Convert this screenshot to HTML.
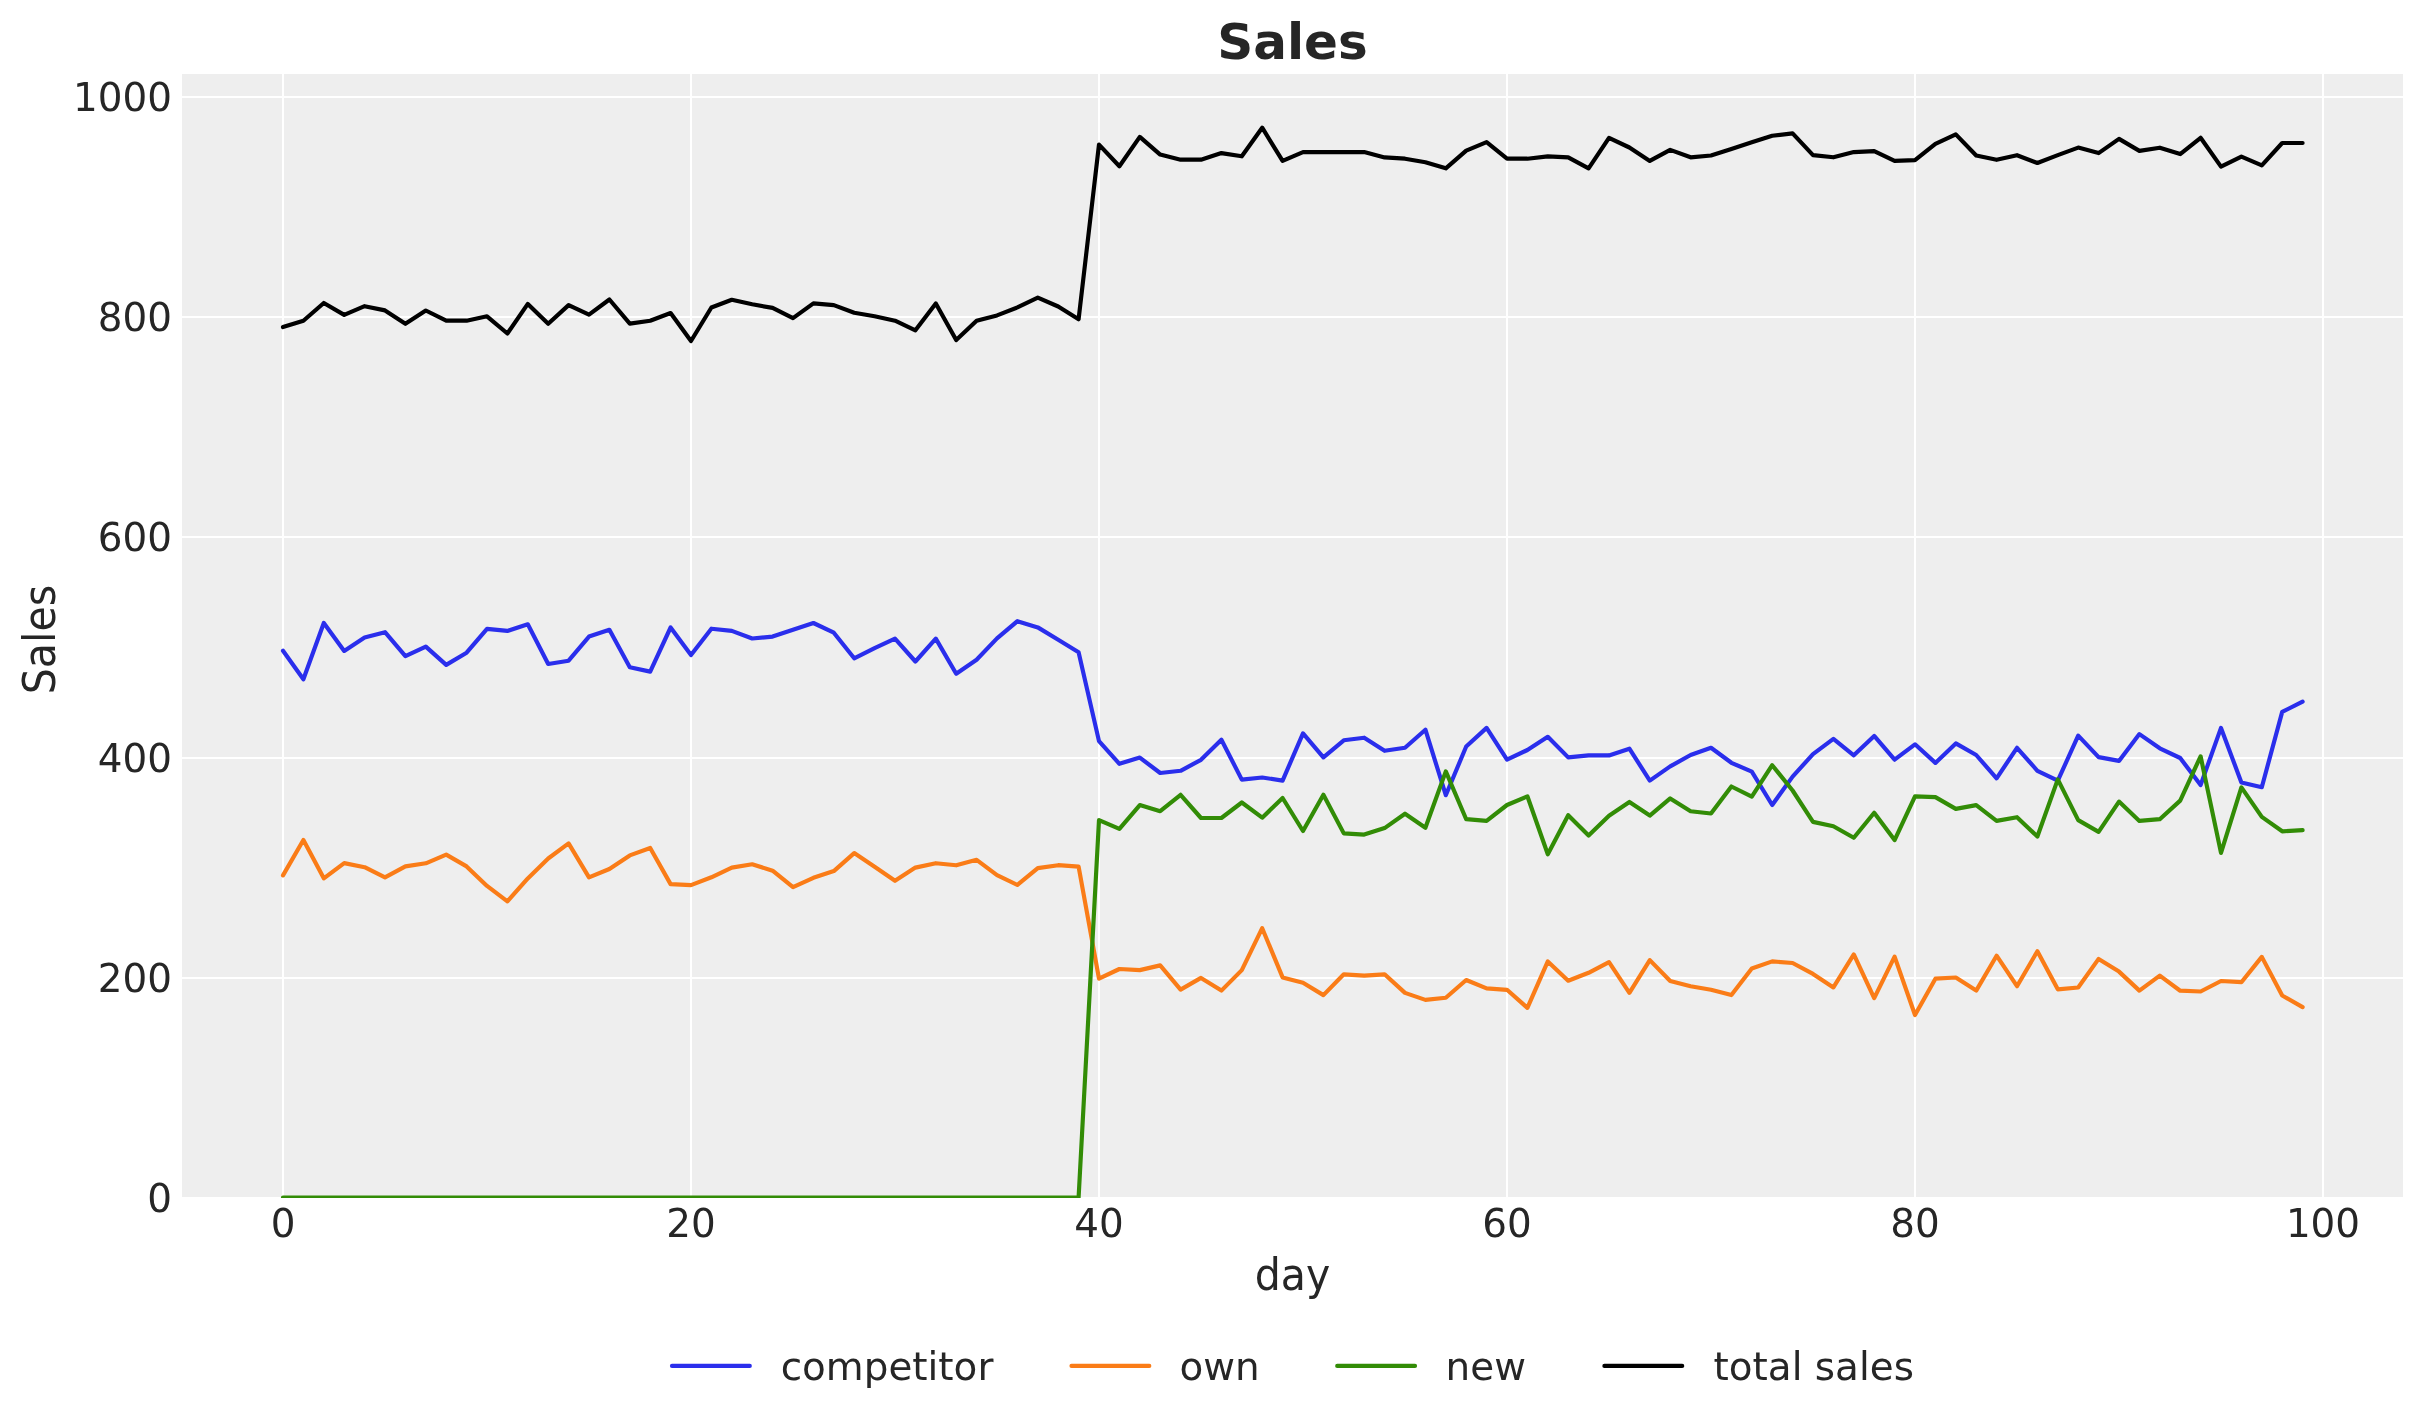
<!DOCTYPE html>
<html lang="en"><head><meta charset="utf-8"><title>Sales</title>
<style>html,body{margin:0;padding:0;background:#fff}svg{display:block;will-change:transform}text{font-family:"DejaVu Sans","Liberation Sans",sans-serif;fill:#262626}</style></head><body>
<svg width="2423" height="1423" viewBox="0 0 2423 1423">
<rect x="0" y="0" width="2423" height="1423" fill="#ffffff"/>
<rect x="182" y="74" width="2221" height="1123" fill="#eeeeee"/>
<g fill="#ffffff" shape-rendering="crispEdges">
<rect x="282" y="74" width="2" height="1123"/>
<rect x="690" y="74" width="2" height="1123"/>
<rect x="1098" y="74" width="2" height="1123"/>
<rect x="1506" y="74" width="2" height="1123"/>
<rect x="1914" y="74" width="2" height="1123"/>
<rect x="2322" y="74" width="2" height="1123"/>
<rect x="182" y="96" width="2221" height="2"/>
<rect x="182" y="316" width="2221" height="2"/>
<rect x="182" y="536" width="2221" height="2"/>
<rect x="182" y="757" width="2221" height="2"/>
<rect x="182" y="977" width="2221" height="2"/>
</g>
<clipPath id="ax"><rect x="182" y="74" width="2221" height="1124"/></clipPath>
<g clip-path="url(#ax)" fill="none" stroke-width="4.17" stroke-linecap="round" stroke-linejoin="round">
<polyline stroke="#2a2eec" points="283.0,650.8 303.4,679.3 323.8,623.0 344.2,650.9 364.6,637.5 385.0,632.2 405.4,656.2 425.8,646.6 446.2,664.9 466.6,652.7 487.0,628.9 507.4,630.9 527.8,624.3 548.2,664.0 568.6,660.7 589.0,636.6 609.4,629.8 629.8,667.3 650.2,671.6 670.6,627.5 691.0,655.1 711.4,628.7 731.8,630.9 752.2,638.5 772.6,636.6 793.0,629.7 813.4,623.0 833.8,632.7 854.2,658.3 874.6,648.1 895.0,638.6 915.4,661.5 935.8,638.6 956.2,673.8 976.6,659.7 997.0,638.4 1017.4,621.2 1037.8,627.4 1058.2,639.8 1078.6,652.2 1099.0,741.1 1119.4,763.8 1139.8,757.6 1160.2,773.0 1180.6,770.8 1201.0,759.8 1221.4,739.8 1241.8,779.6 1262.2,777.5 1282.6,780.6 1303.0,733.3 1323.4,757.4 1343.8,740.3 1364.2,737.7 1384.6,750.8 1405.0,747.7 1425.4,729.7 1445.8,795.2 1466.2,746.5 1486.6,727.9 1507.0,759.7 1527.4,750.0 1547.8,736.8 1568.2,757.4 1588.6,755.4 1609.0,755.4 1629.4,748.7 1649.8,780.6 1670.2,766.4 1690.6,755.0 1711.0,747.8 1731.4,762.8 1751.8,771.7 1772.2,805.0 1792.6,776.6 1813.0,754.1 1833.4,738.9 1853.8,755.3 1874.2,735.9 1894.6,759.7 1915.0,744.3 1935.4,762.9 1955.8,743.4 1976.2,755.0 1996.6,778.3 2017.0,747.8 2037.4,770.8 2057.8,780.7 2078.2,735.6 2098.6,757.1 2119.0,760.9 2139.4,734.1 2159.8,748.3 2180.2,758.0 2200.6,785.1 2221.0,727.9 2241.4,782.5 2261.8,787.2 2282.2,711.9 2302.6,701.6"/>
<polyline stroke="#fa7c17" points="283.0,875.4 303.4,840.0 323.8,878.3 344.2,863.1 364.6,867.2 385.0,877.4 405.4,866.4 425.8,863.3 446.2,854.6 466.6,866.4 487.0,885.9 507.4,901.4 527.8,878.4 548.2,858.5 568.6,843.4 589.0,877.4 609.4,869.0 629.8,855.4 650.2,848.0 670.6,884.1 691.0,885.1 711.4,877.3 731.8,867.6 752.2,864.3 772.6,870.7 793.0,887.2 813.4,877.8 833.8,871.1 854.2,853.1 874.6,866.8 895.0,880.8 915.4,867.6 935.8,863.2 956.2,865.3 976.6,859.8 997.0,875.2 1017.4,884.9 1037.8,868.1 1058.2,865.2 1078.6,866.7 1099.0,978.7 1119.4,969.0 1139.8,970.1 1160.2,965.4 1180.6,989.6 1201.0,977.9 1221.4,990.6 1241.8,970.1 1262.2,928.2 1282.6,977.4 1303.0,982.7 1323.4,995.1 1343.8,974.3 1364.2,975.6 1384.6,974.3 1405.0,992.9 1425.4,999.9 1445.8,997.7 1466.2,980.0 1486.6,988.4 1507.0,989.8 1527.4,1007.9 1547.8,961.4 1568.2,980.7 1588.6,972.8 1609.0,962.2 1629.4,992.8 1649.8,960.1 1670.2,981.0 1690.6,986.3 1711.0,989.8 1731.4,995.1 1751.8,968.5 1772.2,961.4 1792.6,963.0 1813.0,973.9 1833.4,987.4 1853.8,954.4 1874.2,998.1 1894.6,956.6 1915.0,1015.0 1935.4,978.7 1955.8,977.5 1976.2,990.6 1996.6,955.7 2017.0,986.2 2037.4,951.2 2057.8,989.3 2078.2,987.5 2098.6,958.9 2119.0,971.6 2139.4,990.6 2159.8,975.6 2180.2,990.7 2200.6,991.5 2221.0,981.0 2241.4,982.2 2261.8,956.9 2282.2,995.5 2302.6,1007.1"/>
<polyline stroke="#328c06" points="283.0,1197.5 303.4,1197.5 323.8,1197.5 344.2,1197.5 364.6,1197.5 385.0,1197.5 405.4,1197.5 425.8,1197.5 446.2,1197.5 466.6,1197.5 487.0,1197.5 507.4,1197.5 527.8,1197.5 548.2,1197.5 568.6,1197.5 589.0,1197.5 609.4,1197.5 629.8,1197.5 650.2,1197.5 670.6,1197.5 691.0,1197.5 711.4,1197.5 731.8,1197.5 752.2,1197.5 772.6,1197.5 793.0,1197.5 813.4,1197.5 833.8,1197.5 854.2,1197.5 874.6,1197.5 895.0,1197.5 915.4,1197.5 935.8,1197.5 956.2,1197.5 976.6,1197.5 997.0,1197.5 1017.4,1197.5 1037.8,1197.5 1058.2,1197.5 1078.6,1197.5 1099.0,820.2 1119.4,828.9 1139.8,805.1 1160.2,811.2 1180.6,794.8 1201.0,818.0 1221.4,818.0 1241.8,802.5 1262.2,817.7 1282.6,798.0 1303.0,831.0 1323.4,794.8 1343.8,833.4 1364.2,834.6 1384.6,828.1 1405.0,813.7 1425.4,827.7 1445.8,771.4 1466.2,819.2 1486.6,820.9 1507.0,805.0 1527.4,796.3 1547.8,854.3 1568.2,815.2 1588.6,835.5 1609.0,815.7 1629.4,801.9 1649.8,815.6 1670.2,798.4 1690.6,811.3 1711.0,813.5 1731.4,786.5 1751.8,796.6 1772.2,765.2 1792.6,790.5 1813.0,821.9 1833.4,826.3 1853.8,837.8 1874.2,812.8 1894.6,840.1 1915.0,796.3 1935.4,797.1 1955.8,808.9 1976.2,805.1 1996.6,820.9 2017.0,817.2 2037.4,836.5 2057.8,779.4 2078.2,820.1 2098.6,831.9 2119.0,801.6 2139.4,820.9 2159.8,819.2 2180.2,800.6 2200.6,756.3 2221.0,852.9 2241.4,787.4 2261.8,816.9 2282.2,831.3 2302.6,830.2"/>
<polyline stroke="#000000" points="283.0,327.1 303.4,320.7 323.8,303.0 344.2,314.9 364.6,306.2 385.0,310.4 405.4,323.8 425.8,310.5 446.2,320.7 466.6,320.7 487.0,316.3 507.4,333.5 527.8,303.9 548.2,323.8 568.6,305.1 589.0,314.7 609.4,299.5 629.8,323.6 650.2,320.7 670.6,313.0 691.0,341.0 711.4,307.5 731.8,299.8 752.2,304.3 772.6,307.9 793.0,318.1 813.4,303.4 833.8,305.1 854.2,312.7 874.6,316.2 895.0,320.7 915.4,330.3 935.8,303.4 956.2,340.1 976.6,320.8 997.0,315.4 1017.4,307.4 1037.8,297.7 1058.2,306.5 1078.6,319.2 1099.0,144.6 1119.4,166.2 1139.8,136.9 1160.2,154.6 1180.6,159.7 1201.0,159.7 1221.4,153.1 1241.8,156.3 1262.2,127.7 1282.6,160.9 1303.0,152.1 1323.4,152.1 1343.8,152.1 1364.2,152.1 1384.6,157.4 1405.0,158.7 1425.4,162.2 1445.8,168.3 1466.2,150.7 1486.6,142.2 1507.0,158.7 1527.4,158.7 1547.8,156.4 1568.2,157.4 1588.6,168.3 1609.0,137.8 1629.4,147.5 1649.8,160.9 1670.2,149.9 1690.6,157.3 1711.0,155.5 1731.4,148.9 1751.8,142.3 1772.2,135.8 1792.6,133.4 1813.0,155.1 1833.4,157.3 1853.8,152.1 1874.2,151.1 1894.6,160.9 1915.0,160.1 1935.4,143.8 1955.8,134.4 1976.2,155.5 1996.6,159.8 2017.0,155.2 2037.4,163.0 2057.8,155.1 2078.2,147.6 2098.6,153.1 2119.0,138.9 2139.4,150.9 2159.8,147.7 2180.2,154.1 2200.6,137.8 2221.0,166.6 2241.4,156.6 2261.8,165.3 2282.2,143.0 2302.6,143.0"/>
</g>
<g font-size="38.89px">
<text x="172.0" y="111.4" text-anchor="end">1000</text>
<text x="172.0" y="331.4" text-anchor="end">800</text>
<text x="172.0" y="551.4" text-anchor="end">600</text>
<text x="172.0" y="772.4" text-anchor="end">400</text>
<text x="172.0" y="992.4" text-anchor="end">200</text>
<text x="172.0" y="1212.4" text-anchor="end">0</text>
<text x="283" y="1236.6" text-anchor="middle">0</text>
<text x="691" y="1236.6" text-anchor="middle">20</text>
<text x="1099" y="1236.6" text-anchor="middle">40</text>
<text x="1507" y="1236.6" text-anchor="middle">60</text>
<text x="1915" y="1236.6" text-anchor="middle">80</text>
<text x="2323" y="1236.6" text-anchor="middle">100</text>
<text transform="translate(1292.5,1289.8) scale(0.985,1.055)" text-anchor="middle" font-size="41.67px">day</text>
<text transform="translate(54.8,639.5) rotate(-90) scale(0.988,1.055)" text-anchor="middle" font-size="41.67px">Sales</text>
</g>
<text x="1292.5" y="58.9" text-anchor="middle" font-size="50.0px" font-weight="bold">Sales</text>
<g font-size="38.89px" stroke-width="4.17" stroke-linecap="round">
<line x1="672.0" y1="1365.9" x2="749.8" y2="1365.9" stroke="#2a2eec"/>
<text x="780.7" y="1380.0">competitor</text>
<line x1="1071.5" y1="1365.9" x2="1149.3" y2="1365.9" stroke="#fa7c17"/>
<text x="1179.4" y="1380.0">own</text>
<line x1="1337.2" y1="1365.9" x2="1415.0" y2="1365.9" stroke="#328c06"/>
<text x="1445.6" y="1380.0">new</text>
<line x1="1604.4" y1="1365.9" x2="1682.2" y2="1365.9" stroke="#000000"/>
<text x="1713.6" y="1380.0">total sales</text>
</g>
</svg></body></html>
